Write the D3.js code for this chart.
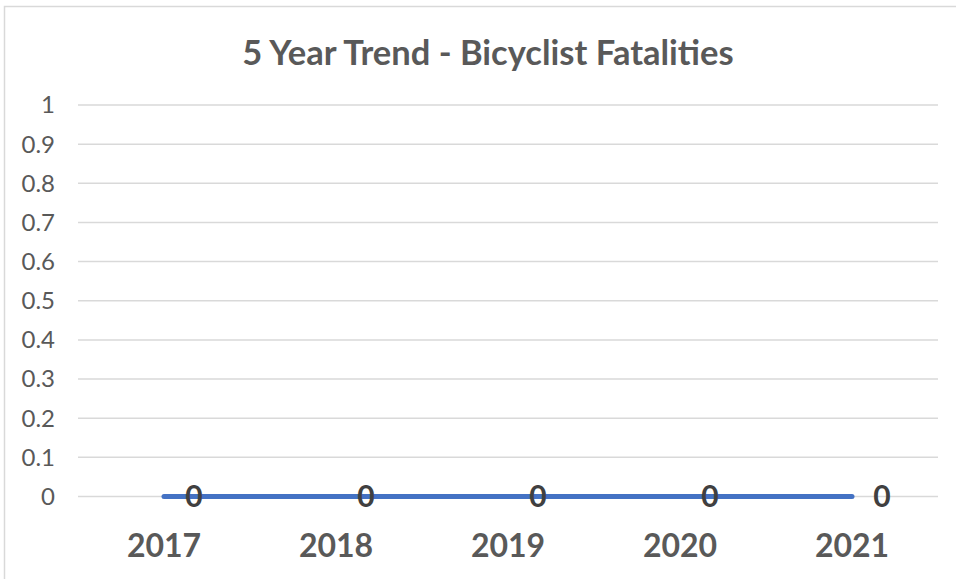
<!DOCTYPE html>
<html lang="en">
    <head>
        <meta charset="utf-8">
        <title>5 Year Trend - Bicyclist Fatalities</title>
        <script type="text/javascript" src="https://cdn.jsdelivr.net/npm/d3@7"></script>
        <style>
            body { margin: 0; background: #fff; }
            text { font-family: Lato, "Open Sans", sans-serif; }
        </style>
    </head>
    <body>
        <script type="text/javascript">
            // data
            var years = ["2017", "2018", "2019", "2020", "2021"];
            var fatalities = [0, 0, 0, 0, 0];
            var yTicks = [0, 0.1, 0.2, 0.3, 0.4, 0.5, 0.6, 0.7, 0.8, 0.9, 1];

            var w = 956;
            var h = 579;

            var svg = d3.select("body")
                        .append("svg")
                        .attr("width", w)
                        .attr("height", h);

            // chart border
            svg.append("rect")
                .attr("x", 4.5)
                .attr("y", 6.5)
                .attr("width", w + 20)
                .attr("height", h + 20)
                .attr("fill", "none")
                .attr("stroke", "#d9d9d9")
                .attr("stroke-width", 1.5);

            svg.append("text")
                .text("5 Year Trend - Bicyclist Fatalities")
                .attr("x", 488)
                .attr("y", 65)
                .attr("text-anchor", "middle")
                .attr("font-size", "34.5px")
                .attr("font-weight", "bold")
                .attr("fill", "#595959");

            var xScale = d3.scaleBand()
                            .domain(years)
                            .range([78, 938]);

            var yScale = d3.scaleLinear()
                            .domain([0, 1])
                            .range([496.5, 105]);

            // gridlines
            svg.selectAll("line.grid")
                .data(yTicks)
                .enter()
                .append("line")
                .attr("class", "grid")
                .attr("x1", 78)
                .attr("x2", 938)
                .attr("y1", function(d) { return yScale(d); })
                .attr("y2", function(d) { return yScale(d); })
                .attr("stroke", "#d9d9d9")
                .attr("stroke-width", 1.5);

            // y axis labels
            svg.selectAll("text.ytick")
                .data(yTicks)
                .enter()
                .append("text")
                .attr("class", "ytick")
                .text(function(d) { return d; })
                .attr("x", 55)
                .attr("y", function(d) { return yScale(d); })
                .attr("dy", "0.35em")
                .attr("text-anchor", "end")
                .attr("font-size", "24px")
                .attr("fill", "#595959");

            // x axis labels
            svg.selectAll("text.xtick")
                .data(years)
                .enter()
                .append("text")
                .attr("class", "xtick")
                .text(function(d) { return d; })
                .attr("x", function(d) { return xScale(d) + xScale.bandwidth() / 2; })
                .attr("y", 557)
                .attr("text-anchor", "middle")
                .attr("font-size", "32px")
                .attr("font-weight", "bold")
                .attr("fill", "#595959");

            var line = d3.line()
                        .x(function(d, i) { return xScale(years[i]) + xScale.bandwidth() / 2; })
                        .y(function(d) { return yScale(d); });

            svg.append("path")
                .datum(fatalities)
                .attr("d", line)
                .attr("fill", "none")
                .attr("stroke", "#4472c4")
                .attr("stroke-width", 5)
                .attr("stroke-linecap", "round");

            // data labels, placed right of each point
            svg.selectAll("text.label")
                .data(fatalities)
                .enter()
                .append("text")
                .attr("class", "label")
                .text(function(d) { return d; })
                .attr("x", function(d, i) { return xScale(years[i]) + xScale.bandwidth() / 2 + 30; })
                .attr("y", function(d) { return yScale(d); })
                .attr("dy", "0.36em")
                .attr("text-anchor", "middle")
                .attr("font-size", "30px")
                .attr("font-weight", "bold")
                .attr("fill", "#404040");
        </script>
    </body>
</html>
